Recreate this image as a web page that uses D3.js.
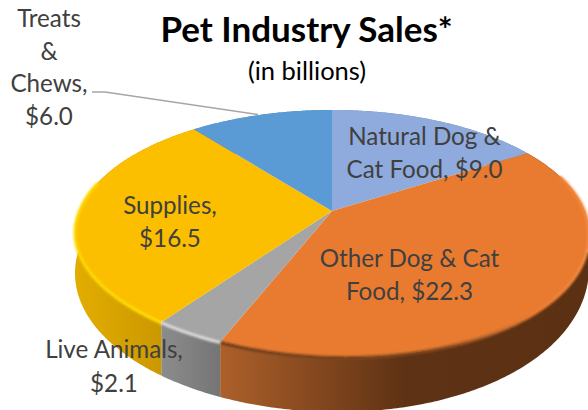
<!DOCTYPE html>
<html>
<head>
<meta charset="utf-8">
<script src="https://cdn.jsdelivr.net/npm/d3@7"></script>
<style>
  html, body { margin: 0; padding: 0; background: #fff; }
  svg { display: block; }
  text { font-family: Lato, "Open Sans", sans-serif; }
</style>
</head>
<body>
<div id="chart"></div>
<script>
const categories = ["Natural Dog & Cat Food", "Other Dog & Cat Food", "Live Animals", "Supplies", "Treats & Chews"];
const sales = [9.0, 22.3, 2.1, 16.5, 6.0];
const topColors = ["#8faadc", "#e97b30", "#a5a5a5", "#fbbf00", "#5b9bd5"];
const rimStops = [
  [["0", "#8faadc"], ["1", "#8faadc"]],
  [["0", "#6b3a18"], ["0.6", "#8a4c20"], ["0.85", "#e97b30"], ["1", "#f78c42"]],
  [["0", "#dcdcdc"], ["1", "#dcdcdc"]],
  [["0", "#ffd900"], ["1", "#ffe000"]],
  [["0", "#78aee0"], ["1", "#78aee0"]]
];
const wallStops = [
  [["0", "#6f86b0"], ["1", "#6f86b0"]],
  [["0", "#ad602a"], ["0.5", "#5e3214"], ["1", "#5c3013"]],
  [["0", "#8c8c8c"], ["1", "#757575"]],
  [["0", "#e2ad00"], ["1", "#c39000"]],
  [["0", "#4a80b0"], ["1", "#4a80b0"]]
];
const labelLines = [
  ["Natural Dog &", "Cat Food, $9.0"],
  ["Other Dog & Cat", "Food, $22.3"],
  ["Live Animals,", "$2.1"],
  ["Supplies,", "$16.5"],
  ["Treats", "&", "Chews,", "$6.0"]
];
const labelAnchors = [[424.5, 145], [409.5, 267], [114, 358], [170, 214], [49, 27]];
const labelGap = [33, 33, 34, 33, 32.7];

const width = 588, height = 410;
const cx = 332, cy = 211, radiusX = 252.7, radiusY = 119.4, tilt = 0.182, nearSkew = 0.025;

const svg = d3.select("#chart").append("svg").attr("width", width).attr("height", height);
const defs = svg.append("defs");
defs.append("filter").attr("id", "soft").attr("x", "-10%").attr("y", "-10%")
  .attr("width", "120%").attr("height", "120%")
  .append("feGaussianBlur").attr("stdDeviation", 1.2);

// Disc coordinates run -1..1; a perspective divide makes the near side larger.
const scaleX = d3.scaleLinear().domain([-1, 1]).range([cx - radiusX, cx + radiusX]);
const scaleY = d3.scaleLinear().domain([-1, 1]).range([cy - radiusY, cy + radiusY]);
function project(angle, r = 1) {
  const u = r * Math.sin(angle), v = -r * Math.cos(angle), w = 1 - tilt * v;
  const x = scaleX(u / w);
  return [x, scaleY(v / w) + nearSkew * (x - cx) * Math.max(0, v)];
}
// The wall looks taller close to the viewer and on the left of the disc.
function wallDepth(angle) {
  return 33 + 22 * Math.max(0, -Math.cos(angle)) - 4 * Math.sin(angle);
}
function arcPoints(a0, a1) {
  const n = Math.max(2, Math.ceil((a1 - a0) / 0.01));
  return d3.range(n + 1).map(i => a0 + (a1 - a0) * i / n);
}
function horizontalGradient(id, xs, stops) {
  const grad = defs.append("linearGradient").attr("id", id)
    .attr("gradientUnits", "userSpaceOnUse")
    .attr("x1", xs[0]).attr("x2", xs[1]).attr("y1", 0).attr("y2", 0);
  stops.forEach(st => grad.append("stop").attr("offset", st[0]).attr("stop-color", st[1]));
}

const pie = d3.pie().sort(null).value(d => d);
const slices = pie(sales);
const line = d3.line();

// Side wall, shaded left to right inside each slice's own span
const walls = svg.append("g");
slices.forEach((s, i) => {
  const angles = arcPoints(s.startAngle, s.endAngle);
  const top = angles.map(a => project(a));
  const bottom = angles.map(a => {
    const p = project(a);
    return [p[0], p[1] + wallDepth(a)];
  }).reverse();
  horizontalGradient("wall" + i, d3.extent(top, p => p[0]), wallStops[i]);
  walls.append("path").attr("d", line(top.concat(bottom)) + "Z").attr("fill", `url(#wall${i})`);
});

// Top faces
const faces = svg.append("g");
slices.forEach((s, i) => {
  const rim = arcPoints(s.startAngle, s.endAngle).map(a => project(a));
  faces.append("path")
    .attr("d", line([project(0, 0)].concat(rim)) + "Z")
    .attr("fill", topColors[i]);
});

// Soft bevel along the near edge of the disc; it fades out toward the right
const bevel = svg.append("g").attr("filter", "url(#soft)");
slices.forEach((s, i) => {
  const a0 = Math.max(s.startAngle, Math.PI * 0.4), a1 = Math.min(s.endAngle, Math.PI * 1.58);
  if (a1 <= a0) return;
  const pts = arcPoints(a0, a1).map(a => {
    const p = project(a);
    return [p[0], p[1] + 0.5];
  });
  horizontalGradient("rim" + i, d3.extent(pts, p => p[0]), rimStops[i]);
  bevel.append("path").attr("d", line(pts))
    .attr("fill", "none").attr("stroke", `url(#rim${i})`).attr("stroke-width", 3);
});

// Leader line for the treats label
svg.append("path").attr("d", line([[92, 92], [105, 92], [258, 114.5]]))
  .attr("fill", "none").attr("stroke", "#a6a6a6").attr("stroke-width", 1.5);

// Title
svg.append("text").attr("x", 306.5).attr("y", 42).attr("text-anchor", "middle")
  .attr("font-size", 35).attr("font-weight", 700).attr("fill", "#000").text("Pet Industry Sales*");
svg.append("text").attr("x", 307).attr("y", 80).attr("text-anchor", "middle")
  .attr("font-size", 25.5).attr("fill", "#000").text("(in billions)");

// Data labels
const labels = svg.append("g").attr("fill", "#404040").attr("font-size", 24.2).attr("text-anchor", "middle");
labelLines.forEach((rows, i) => {
  rows.forEach((row, j) => {
    labels.append("text").attr("x", labelAnchors[i][0])
      .attr("y", labelAnchors[i][1] + j * labelGap[i]).text(row);
  });
});
</script>
</body>
</html>
